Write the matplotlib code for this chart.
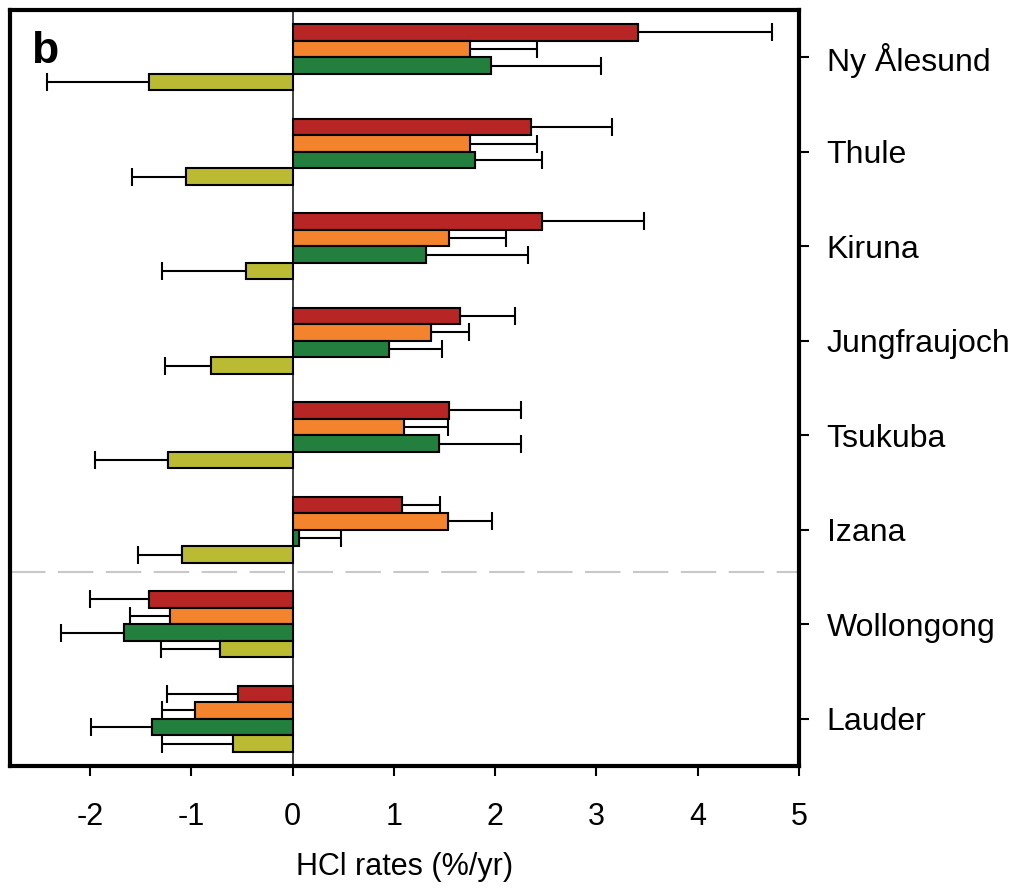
import numpy as np
import matplotlib
matplotlib.use("Agg")
import matplotlib.pyplot as plt

plt.rcParams['font.family'] = ['Liberation Sans', 'DejaVu Sans']

# stations, top to bottom
stations = ["Ny Ålesund", "Thule", "Kiruna", "Jungfraujoch",
            "Tsukuba", "Izana", "Wollongong", "Lauder"]

# HCl rates (%/yr) for the four series and their (one-sided) errors
red_vals = [3.41, 2.35, 2.46, 1.65, 1.54, 1.08, -1.42, -0.54]
red_err = [1.32, 0.80, 1.01, 0.55, 0.72, 0.38, 0.58, 0.70]
orange_vals = [1.75, 1.75, 1.54, 1.37, 1.10, 1.53, -1.21, -0.96]
orange_err = [0.66, 0.66, 0.57, 0.37, 0.43, 0.44, 0.39, 0.33]
green_vals = [1.96, 1.80, 1.32, 0.95, 1.45, 0.06, -1.66, -1.39]
green_err = [1.09, 0.66, 1.00, 0.53, 0.81, 0.42, 0.63, 0.60]
olive_vals = [-1.42, -1.05, -0.46, -0.81, -1.23, -1.09, -0.72, -0.59]
olive_err = [1.00, 0.54, 0.83, 0.45, 0.72, 0.44, 0.58, 0.70]

series = [
    (red_vals, red_err, "#B82525"),
    (orange_vals, orange_err, "#F3832D"),
    (green_vals, green_err, "#237F3E"),
    (olive_vals, olive_err, "#BBBB33"),
]

fig = plt.figure(figsize=(10.17, 8.88), dpi=100)
ax = fig.add_axes([0.0098, 0.1374, 0.7758, 0.8513])

y = np.arange(len(stations))
h = 0.175

ax.axvline(0, color="#333333", lw=1.3, zorder=1)

for i, (vals, err, col) in enumerate(series):
    vals = np.array(vals)
    err = np.array(err)
    pos = y + (i - 1.5) * h
    lower = np.where(vals < 0, err, 0)
    upper = np.where(vals >= 0, err, 0)
    ax.errorbar(vals, pos, xerr=[lower, upper], fmt="none", ecolor="black",
                elinewidth=1.5, capsize=6.5, capthick=1.5, zorder=2)
    ax.barh(pos, vals, height=h, color=col, edgecolor="black",
            linewidth=1.5, zorder=3)

ax.axhline(5.45, color="#C8C8C8", lw=1.5, linestyle=(0, (17, 6)), zorder=0)

ax.set_xlim(-2.79, 5.0)
ax.set_ylim(7.5, -0.5)
ax.set_xticks(range(-2, 6))
ax.set_xticklabels([str(v) for v in range(-2, 6)])
ax.set_yticks(y)
ax.set_yticklabels(stations)
ax.yaxis.tick_right()
ax.tick_params(axis="x", direction="out", length=7, width=1.5, pad=19, labelsize=22)
ax.tick_params(axis="y", direction="out", length=7, width=1.5, pad=13, labelsize=23,
               left=False, right=True)
for s in ax.spines.values():
    s.set_linewidth(3)

ax.set_xlabel("HCl rates (%/yr)", fontsize=22, labelpad=14)
ax.text(0.027, 0.972, "b", transform=ax.transAxes, fontsize=32,
        fontweight="bold", va="top", ha="left")

fig.savefig("out.png", dpi=100)
